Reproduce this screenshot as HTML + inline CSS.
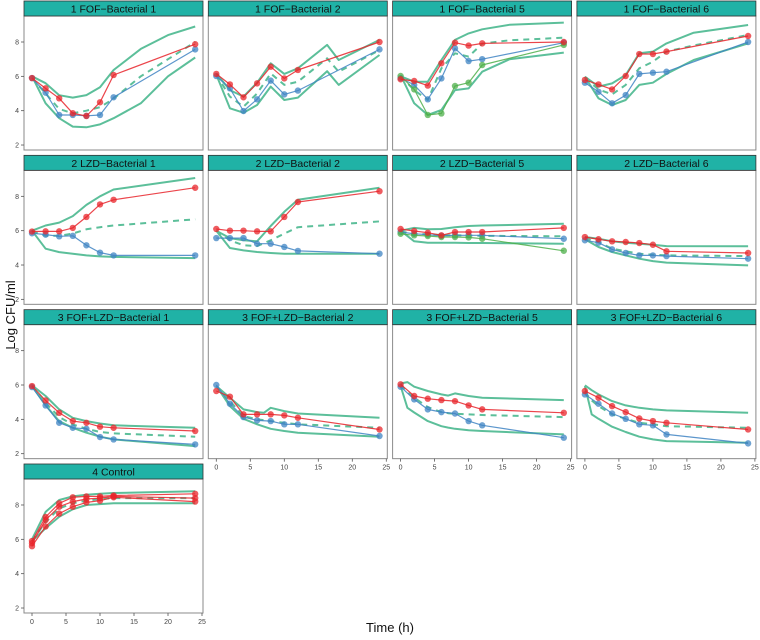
<!DOCTYPE html>
<html><head><meta charset="utf-8"><style>
html,body{margin:0;padding:0;background:#fff;}
svg{display:block;font-family:"Liberation Sans",sans-serif;}
</style></head><body>
<svg id="chart" width="760" height="640" viewBox="0 0 760 640" xmlns="http://www.w3.org/2000/svg">
<text x="0" y="0" transform="translate(15,315) rotate(-90)" text-anchor="middle" font-size="13" fill="#111">Log CFU/ml</text>
<text x="390" y="632" text-anchor="middle" font-size="13" fill="#111">Time (h)</text>
</svg>
<script>
const times = [0,2,4,6,8,10,12,24];
const xTicks = [0,5,10,15,20,25];
const yTicks = [2,4,6,8];
const titles = ["1  FOF\u2212Bacterial 1","1  FOF\u2212Bacterial 2","1  FOF\u2212Bacterial 5","1  FOF\u2212Bacterial 6","2  LZD\u2212Bacterial 1","2  LZD\u2212Bacterial 2","2  LZD\u2212Bacterial 5","2  LZD\u2212Bacterial 6","3  FOF+LZD\u2212Bacterial 1","3  FOF+LZD\u2212Bacterial 2","3  FOF+LZD\u2212Bacterial 5","3  FOF+LZD\u2212Bacterial 6","4  Control"];

// panel 1
const p1_red=[5.9,5.3,4.72,3.85,3.69,4.49,6.08,7.87];
const p1_blue=[5.9,5.05,3.75,3.75,3.7,3.75,4.78,7.57];
const p1_envT=[0,2,4,6,8,10,12,16,20,24];
const p1_up=[6.0,5.6,4.9,4.76,4.91,5.36,6.37,7.6,8.4,8.9];
const p1_lo=[6.0,4.43,3.56,3.07,3.03,3.2,3.56,4.43,6.0,7.1];
const p1_med=[5.9,5.0,4.1,3.85,4.0,4.2,4.7,6.0,7.0,8.0];
// panel 2
const p2_red=[6.14,5.53,4.78,5.59,6.56,5.88,6.37,8.0];
const p2_blue=[6.02,5.3,3.98,4.66,5.75,4.95,5.17,7.57];
const p2_envT=[0,2,4,6,8,10,12,16.3,18,24];
const p2_up=[6.17,5.2,4.82,5.63,6.76,6.14,6.47,7.83,6.95,8.12];
const p2_lo=[6.1,4.14,3.88,4.33,5.4,4.62,4.76,6.3,5.5,7.24];
const p2_med=[6.1,4.82,4.23,5.0,6.17,5.5,5.69,7.05,6.27,7.53];
// panel 3
const p3_red=[5.83,5.73,5.46,6.76,7.96,7.79,7.92,8.0];
const p3_blue=[5.9,5.5,4.66,5.88,7.63,6.89,7.0,7.96];
const p3_green=[6.02,5.24,3.75,3.84,5.44,5.63,6.66,7.83];
const p3_envT=[0,2,4,6,8,10,12,16,24];
const p3_up=[6.0,5.69,5.69,6.95,8.12,8.5,8.74,9.0,9.13];
const p3_lo=[6.08,4.43,3.75,4.04,5.2,5.3,6.27,6.99,7.38];
const p3_med=[6.0,5.2,4.62,6.47,7.34,7.15,7.9,8.1,8.25];
// panel 4
const p4_red=[5.79,5.53,5.24,6.02,7.3,7.3,7.44,8.35];
const p4_blue=[5.63,5.1,4.43,4.91,6.14,6.21,6.27,8.0];
const p4_envT=[0,2,4,6,8,10,12,16,24];
const p4_up=[5.98,5.4,5.59,6.08,7.34,7.44,7.92,8.54,8.99];
const p4_lo=[5.98,4.72,4.33,4.62,5.5,5.63,6.14,6.95,7.92];
const p4_med=[5.9,5.24,4.95,5.5,6.47,6.85,7.44,7.8,8.41];
// panel 5
const p5_red=[5.95,5.96,5.96,6.16,6.8,7.53,7.8,8.5];
const p5_blue=[5.85,5.77,5.67,5.7,5.15,4.72,4.56,4.56];
const p5_envT=times;
const p5_up=[6.0,6.3,6.47,6.85,7.5,8.0,8.4,9.07];
const p5_lo=[6.0,4.95,4.75,4.66,4.56,4.5,4.47,4.4];
const p5_med=[5.95,5.7,5.7,5.83,6.08,6.2,6.3,6.66];
// panel 6
const p6_red=[6.1,6.0,6.0,5.96,5.96,6.8,7.67,8.3];
const p6_blue=[5.57,5.57,5.57,5.24,5.24,5.05,4.82,4.66];
const p6_envT=times;
const p6_up=[6.0,5.57,5.44,5.38,6.27,7.1,7.8,8.5];
const p6_lo=[6.0,4.99,4.85,4.76,4.7,4.66,4.66,4.66];
const p6_med=[6.0,5.44,5.15,5.1,5.44,5.83,6.2,6.54];
// panel 7
const p7_red=[6.1,5.98,5.88,5.73,5.92,5.92,5.92,6.16];
const p7_blue=[5.92,5.82,5.77,5.7,5.73,5.73,5.73,5.53];
const p7_green=[5.82,5.73,5.69,5.63,5.63,5.61,5.53,4.83];
const p7_envT=times;
const p7_up=[6.0,6.16,6.08,6.1,6.2,6.27,6.3,6.4];
const p7_lo=[6.0,5.38,5.3,5.3,5.3,5.28,5.28,5.24];
const p7_med=[5.95,5.82,5.78,5.75,5.73,5.72,5.7,5.67];
// panel 8
const p8_red=[5.63,5.5,5.38,5.34,5.28,5.18,4.8,4.7];
const p8_blue=[5.44,5.3,4.91,4.7,4.56,4.56,4.52,4.37];
const p8_envT=times;
const p8_up=[5.63,5.53,5.38,5.3,5.24,5.18,5.1,5.09];
const p8_lo=[5.5,5.05,4.76,4.56,4.37,4.23,4.14,3.98];
const p8_med=[5.55,5.34,4.95,4.8,4.66,4.6,4.56,4.52];
// panel 9
const p9_red=[5.94,5.1,4.38,3.9,3.8,3.57,3.51,3.32];
const p9_blue=[5.88,4.81,3.8,3.51,3.45,2.97,2.83,2.54];
const p9_envT=times;
const p9_up=[5.98,5.36,4.58,4.09,3.9,3.76,3.65,3.51];
const p9_lo=[5.94,4.81,3.9,3.51,3.22,2.99,2.83,2.44];
const p9_med=[5.94,4.97,4.13,3.7,3.45,3.26,3.18,2.99];
// panel 10
const p10_red=[5.65,5.32,4.29,4.29,4.29,4.23,4.09,3.41];
const p10_blue=[6.0,4.91,4.13,3.94,3.9,3.71,3.71,3.03];
const p10_envT=[0,2,4,6,7,8,10,12,24];
const p10_up=[5.94,5.26,4.58,4.42,4.38,4.67,4.48,4.34,4.09];
const p10_lo=[5.94,4.77,4.03,3.71,3.58,3.45,3.32,3.22,2.99];
const p10_med=[5.94,5.07,4.19,4.0,3.95,3.9,3.8,3.71,3.51];
// panel 11
const p11_red=[6.04,5.36,5.2,5.12,5.06,4.81,4.58,4.38];
const p11_blue=[5.9,5.16,4.58,4.42,4.34,3.9,3.65,2.93];
const p11_envT=[0,1,2,4,6,7,8,10,12,24];
const p11_up=[6.09,6.17,5.9,5.65,5.45,5.38,5.51,5.36,5.26,5.12];
const p11_lo=[5.94,4.67,4.4,3.9,3.6,3.52,3.45,3.37,3.32,3.12];
const p11_med=[6.0,5.6,5.26,4.71,4.42,4.36,4.32,4.29,4.25,4.13];
// panel 12
const p12_red=[5.65,5.26,4.77,4.42,4.05,3.9,3.8,3.41];
const p12_blue=[5.45,4.91,4.34,4.03,3.71,3.65,3.12,2.6];
const p12_envT=[0,1,2,4,6,8,10,12,24];
const p12_up=[5.98,5.7,5.45,5.06,4.81,4.67,4.58,4.52,4.38];
const p12_lo=[5.94,4.29,4.03,3.57,3.26,2.99,2.83,2.73,2.64];
const p12_med=[5.6,5.1,4.77,4.29,4.03,3.8,3.71,3.6,3.51];
// panel 13 control
const p13_redA=[5.77,7.13,7.9,8.2,8.35,8.4,8.5,8.4];
const p13_redB=[5.6,6.75,7.5,7.9,8.15,8.25,8.45,8.2];
const p13_redC=[5.9,7.3,8.1,8.45,8.5,8.5,8.55,8.65];
const p13_envT=times;
const p13_up=[6.0,7.6,8.29,8.5,8.6,8.65,8.7,8.8];
const p13_lo=[5.9,6.64,7.32,7.75,8.0,8.05,8.1,8.1];
const p13_med=[5.9,7.0,7.8,8.1,8.25,8.35,8.4,8.4];

const panels=[
 {r:p1_red,b:p1_blue,et:p1_envT,u:p1_up,l:p1_lo,m:p1_med},
 {r:p2_red,b:p2_blue,et:p2_envT,u:p2_up,l:p2_lo,m:p2_med},
 {r:p3_red,b:p3_blue,g:p3_green,et:p3_envT,u:p3_up,l:p3_lo,m:p3_med},
 {r:p4_red,b:p4_blue,et:p4_envT,u:p4_up,l:p4_lo,m:p4_med},
 {r:p5_red,b:p5_blue,et:p5_envT,u:p5_up,l:p5_lo,m:p5_med},
 {r:p6_red,b:p6_blue,et:p6_envT,u:p6_up,l:p6_lo,m:p6_med},
 {r:p7_red,b:p7_blue,g:p7_green,et:p7_envT,u:p7_up,l:p7_lo,m:p7_med},
 {r:p8_red,b:p8_blue,et:p8_envT,u:p8_up,l:p8_lo,m:p8_med},
 {r:p9_red,b:p9_blue,et:p9_envT,u:p9_up,l:p9_lo,m:p9_med},
 {r:p10_red,b:p10_blue,et:p10_envT,u:p10_up,l:p10_lo,m:p10_med},
 {r:p11_red,b:p11_blue,et:p11_envT,u:p11_up,l:p11_lo,m:p11_med},
 {r:p12_red,b:p12_blue,et:p12_envT,u:p12_up,l:p12_lo,m:p12_med},
 {r:p13_redA,r2:p13_redB,r3:p13_redC,et:p13_envT,u:p13_up,l:p13_lo,m:p13_med}
];

const NS="http://www.w3.org/2000/svg";
const svg=document.getElementById('chart');
function mk(tag,attrs,parent){const e=document.createElementNS(NS,tag);for(const k in attrs)e.setAttribute(k,attrs[k]);(parent||svg).appendChild(e);return e;}
function panelLeft(c){return 24+c*184.3;}
function panelTop(r){return 1+r*154.33;}
function xScale(t,c){return panelLeft(c)+8+t*6.8;}
function yScale(v,r){return panelTop(r)+41+(8-v)*17.17;}
const PW=179,STRIP=15,PH=134;

panels.forEach((p,i)=>{
  const c=i%4, r=Math.floor(i/4);
  const L=panelLeft(c), T=panelTop(r);
  const g=mk('g',{});
  
  
  const bg=mk('rect',{x:L,y:T+STRIP,width:PW,height:PH,fill:'#fff',stroke:'#8a8a8a','stroke-width':1},g);
  
  
  const st=mk('rect',{x:L,y:T,width:PW,height:STRIP,fill:'#20b2a6',stroke:'#333','stroke-width':0.8},g);
  
  
  const tt=mk('text',{x:L+PW/2,y:T+11.5,'text-anchor':'middle','font-size':'10.5',fill:'#111'},g);
  tt.textContent=titles[i];
  
  
  const clipId='clip'+i;
  const cp=mk('clipPath',{id:clipId},g);
  mk('rect',{x:L,y:T+STRIP,width:PW,height:PH},cp);
  const pg=mk('g',{'clip-path':'url(#'+clipId+')'},g);
  function line(ts,vs,color,w,dash,op,name){
    const pts=ts.map((t,k)=>xScale(t,c).toFixed(1)+','+yScale(vs[k],r).toFixed(1)).join(' ');
    const pl=mk('polyline',{points:pts,fill:'none',stroke:color,'stroke-width':w,'stroke-opacity':op,'stroke-linejoin':'round'},pg);
    if(dash)pl.setAttribute('stroke-dasharray',dash);
    
    
  }
  function series(vs,color,name){
    line(times,vs,color,1.2,null,0.85,name+'-line');
    vs.forEach((v,k)=>{
      const ci=mk('circle',{cx:xScale(times[k],c),cy:yScale(v,r),r:3.2,fill:color,'fill-opacity':0.75},pg);
      
      
    });
  }
  line(p.et,p.u,'#5cbf9a',2,null,1,'upper-envelope');
  line(p.et,p.l,'#5cbf9a',2,null,1,'lower-envelope');
  line(p.et,p.m,'#5cbf9a',2,'6,5',1,'median-dashed');
  if(p.b)series(p.b,'#3f84c3','blue-series');
  if(p.g)series(p.g,'#4daf4a','green-series');
  if(p.r)series(p.r,'#e8252b','red-series');
  if(p.r2)series(p.r2,'#e8252b','red-series-2');
  if(p.r3)series(p.r3,'#e8252b','red-series-3');
  // y axis ticks on first column
  if(c===0){
    yTicks.forEach(v=>{
      const y=yScale(v,r);
      mk('line',{x1:L-3,x2:L,y1:y,y2:y,stroke:'#555','stroke-width':0.8},g);
      const tl=mk('text',{x:L-5,y:y+2.5,'text-anchor':'end','font-size':'7',fill:'#444'},g);
      tl.textContent=v;
      
      
    });
  }
  // x axis on bottom panel of each column
  const bottom=(c===0&&r===3)||(c>0&&r===2);
  if(bottom){
    const by=T+STRIP+PH;
    xTicks.forEach(t=>{
      const x=xScale(t,c);
      mk('line',{x1:x,x2:x,y1:by,y2:by+3,stroke:'#555','stroke-width':0.8},g);
      const tl=mk('text',{x:x,y:by+11,'text-anchor':'middle','font-size':'7',fill:'#444'},g);
      tl.textContent=t;
      
      
    });
  }
});
</script>
</body></html>
